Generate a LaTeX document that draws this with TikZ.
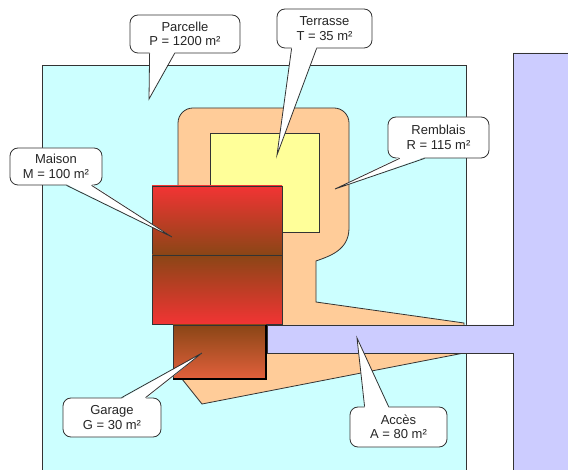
\documentclass[tikz,border=0pt]{standalone}
\usepackage{fontspec}
\setmainfont{Liberation Sans}
\usetikzlibrary{positioning,shapes}
\definecolor{parcelleColor}{HTML}{CCFFFF}
\definecolor{remblaisColor}{HTML}{FFCC99}
\definecolor{terrasseColor}{HTML}{FFFF99}
\definecolor{accesColor}{HTML}{CCCCFF}
\definecolor{rouge}{HTML}{F23434}
\definecolor{brun}{HTML}{8A4616}
\definecolor{orangeFonce}{HTML}{E2603C}
\tikzstyle{zone}  = [draw=black!80, line width=0.8pt]
\tikzstyle{bulle} = [rectangle, draw=black!80, line width=0.8pt, fill=white, rounded corners=8pt,
    align=center, inner sep=0pt, font=\fontsize{13}{14.5}\selectfont, text=black!85]
\tikzstyle{trait} = [draw=black!80, line width=0.8pt]
% pointer of a bubble: corner of bubble, left offset, right offset, tip, inward shift
\newcommand{\bec}[5]{%
  \fill[white] ([xshift=#2pt,yshift=#5pt]#1) -- (#4) -- ([xshift=#3pt,yshift=#5pt]#1) -- cycle;
  \path[trait] ([xshift=#2pt]#1) -- (#4) -- ([xshift=#3pt]#1);}

\begin{document}
\begin{tikzpicture}[x=1pt,y=-1pt]
    \useasboundingbox (0,0) rectangle (568,470);
    % Parcelle
    \fill[white] (0,0) rectangle (568,470);
    \path[zone, fill=parcelleColor] (42,65) rectangle (466,480);
    % Remblais
    \path[zone, fill=remblaisColor] (178,379) [rounded corners=15pt] -- (178,108) -- (349,108) -- (349,200)
        [sharp corners] -- (349,228) .. controls (349,250) and (330,256) .. (316,261) -- (316,302)
        -- (464,323) -- (464,353) -- (202,404) -- (182,379) -- cycle;
    % Acces
    \path[zone, fill=accesColor] (267,325) -- (513,325) -- (513,53) -- (580,53) -- (580,480)
        -- (513,480) -- (513,353) -- (267,353) -- cycle;
    % Terrasse
    \path[zone, fill=terrasseColor] (210,133) rectangle (319,232);
    % Maison
    \path[zone, top color=rouge, bottom color=brun] (152,186) rectangle (282,255);
    \path[zone, top color=brun, bottom color=rouge] (152,255) rectangle (282,324);
    % Garage
    \path[zone, top color=brun, bottom color=orangeFonce] (173,325) rectangle (266,379);
    \draw[black, line width=1.3pt] (266,325) -- (266,379) -- (173,379);

    % Place nodes
    \node [bulle, minimum width=110pt, minimum height=38pt] (parcelle) at (185,34)   {Parcelle\\P = 1200 m²};
    \node [bulle, minimum width=95pt,  minimum height=39pt] (terrasse) at (324.5,28.5) {Terrasse\\T = 35 m²};
    \node [bulle, minimum width=101pt, minimum height=41pt] (remblais) at (438.5,137.5) {Remblais\\R = 115 m²};
    \node [bulle, minimum width=92pt,  minimum height=37pt] (maison)   at (56,166.5)  {Maison\\M = 100 m²};
    \node [bulle, minimum width=98pt,  minimum height=39pt] (garage)   at (112,417.5) {Garage\\G = 30 m²};
    \node [bulle, minimum width=97pt,  minimum height=40pt] (acces)    at (398.5,427) {Accès\\A = 80 m²};

    \coordinate (parcelleTip) at (149,99);
    \coordinate (terrasseTip) at (277,155);
    \coordinate (remblaisTip) at (335,189);
    \coordinate (maisonTip)   at (172,237);
    \coordinate (garageTip)   at (202,353);
    \coordinate (accesTip)    at (357,338);

    \bec{parcelle.south west}{20}{45}{parcelleTip}{1.2}
    \bec{terrasse.south west}{15}{40}{terrasseTip}{1.2}
    \bec{remblais.south west}{12}{37}{remblaisTip}{1.2}
    \bec{maison.south west}{57}{82}{maisonTip}{1.2}
    \bec{garage.north west}{59}{83}{garageTip}{-1.2}
    \bec{acces.north west}{15}{39}{accesTip}{-1.2}
\end{tikzpicture}
\end{document}
